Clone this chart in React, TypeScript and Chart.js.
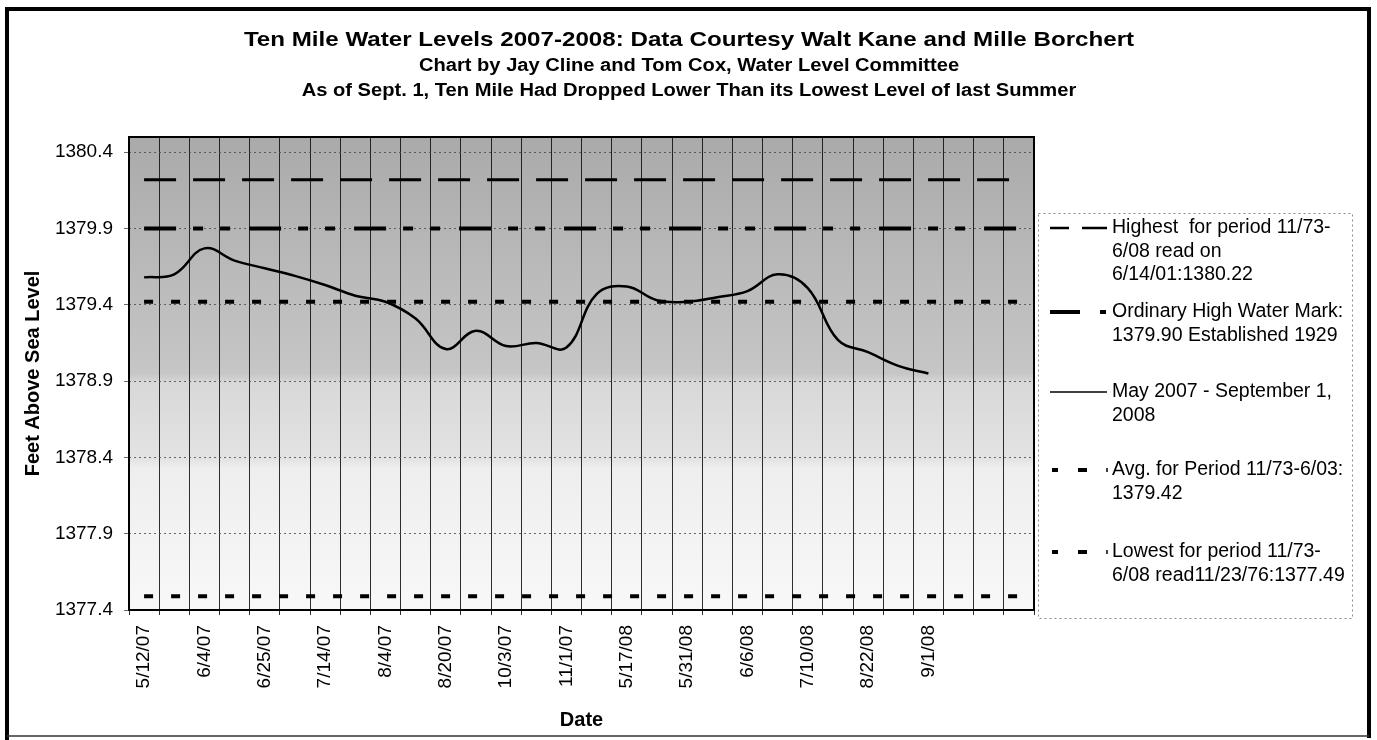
import React, { useEffect, useRef } from "react";
import { Chart, registerables } from "chart.js";

Chart.register(...registerables);

// ---------- data ----------
const dateLabels = [
  "5/12/07", "6/4/07", "6/25/07", "7/14/07", "8/4/07", "8/20/07", "10/3/07",
  "11/1/07", "5/17/08", "5/31/08", "6/6/08", "7/10/08", "8/22/08", "9/1/08",
];
const categoryCount = 30;

const waterLevels = [
  1379.58, 1379.6, 1379.77, 1379.69, 1379.64, 1379.59, 1379.53, 1379.46,
  1379.42, 1379.31, 1379.11, 1379.23, 1379.13, 1379.15, 1379.12, 1379.47,
  1379.52, 1379.43, 1379.42, 1379.45, 1379.49, 1379.6, 1379.51, 1379.17,
  1379.09, 1379.0, 1378.95,
];

const highestLevel = 1380.22;
const ordinaryHighWater = 1379.9;
const averageLevel = 1379.42;
const lowestLevel = 1377.49;

const yTickValues = [1377.4, 1377.9, 1378.4, 1378.9, 1379.4, 1379.9, 1380.4];
const yMin = 1377.4;
const yMax = 1380.5;

const titleLines = [
  "Ten Mile Water Levels 2007-2008: Data Courtesy Walt Kane and Mille Borchert",
  "Chart by Jay Cline and Tom Cox, Water Level Committee",
  "As of Sept. 1, Ten Mile Had Dropped Lower Than its Lowest Level of last Summer",
];

const legendText = [
  ["Highest  for period 11/73-", "6/08 read on", "6/14/01:1380.22"],
  ["Ordinary High Water Mark:", "1379.90 Established 1929"],
  ["May 2007 - September 1,", "2008"],
  ["Avg. for Period 11/73-6/03:", "1379.42"],
  ["Lowest for period 11/73-", "6/08 read11/23/76:1377.49"],
];

const FONT = "'Liberation Sans', Arial, Helvetica, sans-serif";

// ---------- decoration plugin ----------
const decorPlugin = {
  id: "decor",
  beforeDraw(chart: any) {
    const { ctx, chartArea: a, width, height } = chart;
    ctx.save();
    ctx.fillStyle = "#ffffff";
    ctx.fillRect(0, 0, width, height);
    const g = ctx.createLinearGradient(0, a.top, 0, a.bottom);
    g.addColorStop(0, "#aaaaaa");
    g.addColorStop(0.5, "#c6c6c6");
    g.addColorStop(0.52, "#d8d8d8");
    g.addColorStop(0.68, "#e3e3e3");
    g.addColorStop(0.7, "#eeeeee");
    g.addColorStop(1, "#f8f8f8");
    ctx.fillStyle = g;
    ctx.fillRect(a.left, a.top, a.right - a.left, a.bottom - a.top);
    ctx.restore();
  },
  afterDraw(chart: any) {
    const { ctx, chartArea: a } = chart;
    ctx.save();
    // plot border
    ctx.setLineDash([]);
    ctx.strokeStyle = "#000";
    ctx.lineWidth = 2;
    ctx.strokeRect(a.left, a.top, a.right - a.left, a.bottom - a.top);

    // outer frame
    ctx.lineWidth = 4;
    ctx.beginPath();
    ctx.moveTo(7, 740);
    ctx.lineTo(7, 9);
    ctx.lineTo(1369, 9);
    ctx.lineTo(1369, 738);
    ctx.stroke();
    ctx.lineWidth = 1.5;
    ctx.strokeStyle = "#333";
    ctx.beginPath();
    ctx.moveTo(7, 736);
    ctx.lineTo(1369, 736);
    ctx.stroke();

    // titles
    const cx = 689;
    const drawScaled = (text: string, y: number, font: string, sx: number) => {
      ctx.save();
      ctx.translate(cx, y);
      ctx.scale(sx, 1);
      ctx.font = font;
      ctx.fillStyle = "#000";
      ctx.textAlign = "center";
      ctx.textBaseline = "alphabetic";
      ctx.fillText(text, 0, 0);
      ctx.restore();
    };
    drawScaled(titleLines[0], 45.5, `bold 21px ${FONT}`, 1.15);
    drawScaled(titleLines[1], 71, `bold 17.5px ${FONT}`, 1.15);
    drawScaled(titleLines[2], 96, `bold 17.5px ${FONT}`, 1.15);

    // legend box
    ctx.strokeStyle = "#8a8a8a";
    ctx.lineWidth = 1;
    ctx.setLineDash([2, 3]);
    ctx.strokeRect(1038.5, 213.5, 314, 405);

    const itemY = [228, 312, 392, 470, 552];
    const lineStep = 23.5;
    const iconL = 1050;
    const iconR = 1107;
    ctx.strokeStyle = "#000";
    ctx.lineCap = "butt";
    const icon = (y: number, w: number, dash: number[]) => {
      ctx.lineWidth = w;
      ctx.setLineDash(dash);
      ctx.beginPath();
      ctx.moveTo(iconL, y);
      ctx.lineTo(iconR, y);
      ctx.stroke();
    };
    icon(itemY[0], 2.5, [19, 13, 25, 100]);
    icon(itemY[1], 4, [30, 20, 6, 100]);
    icon(itemY[2], 1.5, []);
    ctx.lineWidth = 4;
    ctx.setLineDash([]);
    [itemY[3], itemY[4]].forEach((y) => {
      ctx.beginPath();
      ctx.moveTo(1052, y); ctx.lineTo(1058, y);
      ctx.moveTo(1078, y); ctx.lineTo(1087, y);
      ctx.stroke();
      ctx.lineWidth = 1.5;
      ctx.beginPath();
      ctx.moveTo(1107, y - 2); ctx.lineTo(1107, y + 2);
      ctx.stroke();
      ctx.lineWidth = 4;
    });

    ctx.setLineDash([]);
    ctx.font = `19.5px ${FONT}`;
    ctx.fillStyle = "#000";
    ctx.textAlign = "left";
    ctx.textBaseline = "middle";
    legendText.forEach((lines, i) => {
      lines.forEach((t, j) => {
        ctx.fillText(t, 1112, itemY[i] + j * lineStep);
      });
    });
    ctx.restore();
  },
};

export default function App() {
  const ref = useRef<HTMLCanvasElement>(null);

  useEffect(() => {
    const canvas = ref.current;
    if (!canvas) return;
    const labels = Array.from({ length: categoryCount }, (_, i) =>
      i % 2 === 0 && i / 2 < dateLabels.length ? dateLabels[i / 2] : ""
    );
    const flat = (v: number) => labels.map(() => v);
    const base = { pointRadius: 0, pointHoverRadius: 0, borderColor: "#000", backgroundColor: "#000", fill: false, tension: 0 };

    const chart = new Chart(canvas, {
      type: "line",
      data: {
        labels,
        datasets: [
          { ...base, label: legendText[0].join(" "), data: flat(highestLevel), borderWidth: 3, borderDash: [32, 17] },
          { ...base, label: legendText[1].join(" "), data: flat(ordinaryHighWater), borderWidth: 4, borderDash: [32, 17, 10, 17, 10, 19] },
          { ...base, label: legendText[2].join(" "), data: waterLevels, borderWidth: 2.5, tension: 0.4 },
          { ...base, label: legendText[3].join(" "), data: flat(averageLevel), borderWidth: 4, borderDash: [9, 18] },
          { ...base, label: legendText[4].join(" "), data: flat(lowestLevel), borderWidth: 4, borderDash: [9, 18] },
        ],
      },
      options: {
        responsive: false,
        animation: false,
        devicePixelRatio: 1,
        layout: { padding: { left: 5, top: 137, right: 343, bottom: 0 } },
        plugins: {
          legend: { display: false },
          title: { display: false },
          tooltip: { enabled: false },
        },
        scales: {
          x: {
            offset: true,
            grid: { offset: true, color: "rgba(10,10,10,0.85)", lineWidth: 1, tickLength: 5 },
            border: { display: false },
            ticks: {
              autoSkip: false,
              maxRotation: 90,
              minRotation: 90,
              padding: 10,
              color: "#000",
              font: { family: FONT, size: 19 },
            },
            title: {
              display: true,
              text: "Date",
              color: "#000",
              font: { family: FONT, size: 20, weight: "bold" },
              padding: { top: 0, bottom: 8 },
            },
            afterFit: (s: any) => {
              s.height = 130;
            },
          },
          y: {
            min: yMin,
            max: yMax,
            afterBuildTicks: (s: any) => {
              s.ticks = yTickValues.map((v) => ({ value: v }));
            },
            ticks: {
              callback: (v: any) => Number(v).toFixed(1),
              padding: 11,
              color: "#000",
              font: { family: FONT, size: 19 },
            },
            grid: { color: "rgba(70,70,70,0.8)", lineWidth: 1, tickLength: 5 },
            border: { display: false, dash: [2, 3] },
            title: {
              display: true,
              text: "Feet Above Sea Level",
              color: "#000",
              font: { family: FONT, size: 20, weight: "bold" },
              padding: { top: 16, bottom: 0 },
            },
            afterFit: (s: any) => {
              s.width = 124;
            },
          },
        },
      } as any,
      plugins: [decorPlugin],
    });
    return () => chart.destroy();
  }, []);

  return (
    <div style={{ position: "absolute", left: 0, top: 0, width: 1377, height: 740 }}>
      <canvas ref={ref} width={1377} height={740} style={{ display: "block" }} />
    </div>
  );
}
